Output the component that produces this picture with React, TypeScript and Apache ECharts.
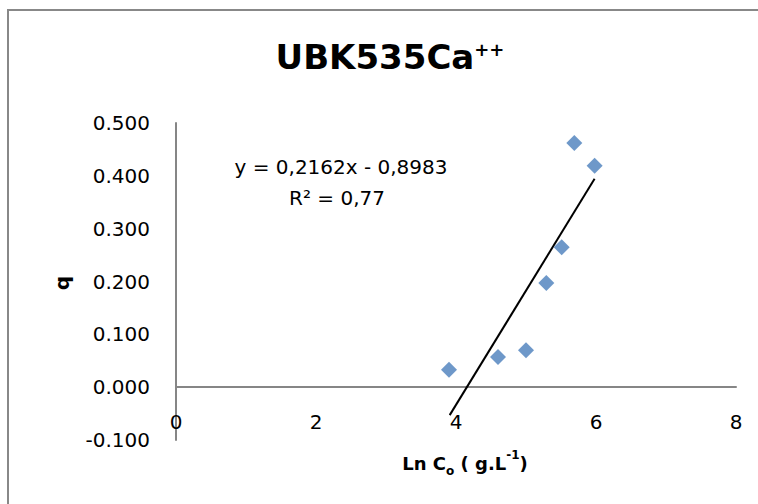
import React, { useEffect, useRef } from "react";
import * as echarts from "echarts";

const lnC: number[] = [3.9, 4.6, 5.0, 5.29, 5.51, 5.69, 5.98];
const qValues: number[] = [0.033, 0.057, 0.07, 0.197, 0.265, 0.462, 0.419];
const trendSlope = 0.2162;
const trendIntercept = -0.8983;
const trendRange: number[] = [3.91, 5.98];
const xTicks = { min: 0, max: 8, interval: 2 };
const yTicks = { min: -0.1, max: 0.5, interval: 0.1 };

const FONT = "DejaVu Sans";

export default function App() {
  const ref = useRef<HTMLDivElement>(null);
  useEffect(() => {
    if (!ref.current) return;
    const chart = echarts.init(ref.current, null, { renderer: "svg" });
    const points = lnC.map((x, i) => [x, qValues[i]]);
    const trend = trendRange.map((x) => [x, trendSlope * x + trendIntercept]);
    chart.setOption({
      animation: false,
      backgroundColor: "#ffffff",
      grid: { left: 176, right: 22, top: 123, bottom: 64 },
      xAxis: {
        type: "value",
        min: xTicks.min,
        max: xTicks.max,
        interval: xTicks.interval,
        axisLine: { show: true, onZero: true, lineStyle: { color: "#868686", width: 2 } },
        axisTick: { show: false },
        splitLine: { show: false },
        axisLabel: { color: "#000", fontFamily: FONT, fontSize: 20, margin: -28 },
      },
      yAxis: {
        type: "value",
        min: yTicks.min,
        max: yTicks.max,
        interval: yTicks.interval,
        axisLine: { show: true, onZero: false, lineStyle: { color: "#868686", width: 2 } },
        axisTick: { show: false },
        splitLine: { show: false },
        axisLabel: {
          color: "#000",
          fontFamily: FONT,
          fontSize: 20,
          margin: 26,
          formatter: (v: number) => v.toFixed(3),
        },
      },
      graphic: [
        {
          type: "rect",
          shape: { x: 8, y: 10, width: 900, height: 700 },
          style: { fill: "none", stroke: "#888888", lineWidth: 2 },
          silent: true,
          z: -1,
        },
        {
          type: "text",
          x: 390,
          y: 74,
          style: {
            text: "{a|UBK535Ca}{b|++}",
            align: "center",
            verticalAlign: "bottom",
            rich: {
              a: { fontFamily: FONT, fontWeight: "bold", fontSize: 34, fill: "#000", verticalAlign: "bottom" },
              b: { fontFamily: FONT, fontWeight: "bold", fontSize: 18, fill: "#000", verticalAlign: "top" },
            },
          },
        },
        {
          type: "text",
          x: 341,
          y: 167,
          style: {
            text: "y = 0,2162x - 0,8983",
            fontFamily: FONT,
            fontSize: 20,
            fill: "#000",
            align: "center",
            verticalAlign: "middle",
          },
        },
        {
          type: "text",
          x: 337,
          y: 198,
          style: {
            text: "R² = 0,77",
            fontFamily: FONT,
            fontSize: 20,
            fill: "#000",
            align: "center",
            verticalAlign: "middle",
          },
        },
        {
          type: "text",
          x: 62,
          y: 283,
          rotation: Math.PI / 2,
          style: {
            text: "q",
            fontFamily: FONT,
            fontWeight: "bold",
            fontSize: 20,
            fill: "#000",
            align: "center",
            verticalAlign: "middle",
          },
        },
        {
          type: "text",
          x: 465,
          y: 463,
          style: {
            text: "{a|Ln C}{s|o}{a| ( g.L}{p|-1}{a|)}",
            align: "center",
            verticalAlign: "middle",
            rich: {
              a: { fontFamily: FONT, fontWeight: "bold", fontSize: 18, lineHeight: 28, fill: "#000", verticalAlign: "middle" },
              s: { fontFamily: FONT, fontWeight: "bold", fontSize: 12, lineHeight: 12, fill: "#000", verticalAlign: "bottom" },
              p: { fontFamily: FONT, fontWeight: "bold", fontSize: 12, lineHeight: 12, fill: "#000", verticalAlign: "top" },
            },
          },
        },
      ],
      series: [
        {
          type: "line",
          data: trend,
          symbol: "none",
          lineStyle: { color: "#000", width: 2 },
          z: 2,
        },
        {
          type: "scatter",
          data: points,
          symbol: "diamond",
          symbolSize: [16, 16],
          itemStyle: { color: "#4A7EBB" },
          z: 3,
        },
      ],
    });
    return () => chart.dispose();
  }, []);
  return (
    <div
      ref={ref}
      style={{ position: "fixed", left: 0, top: 0, width: 758, height: 504 }}
    />
  );
}
